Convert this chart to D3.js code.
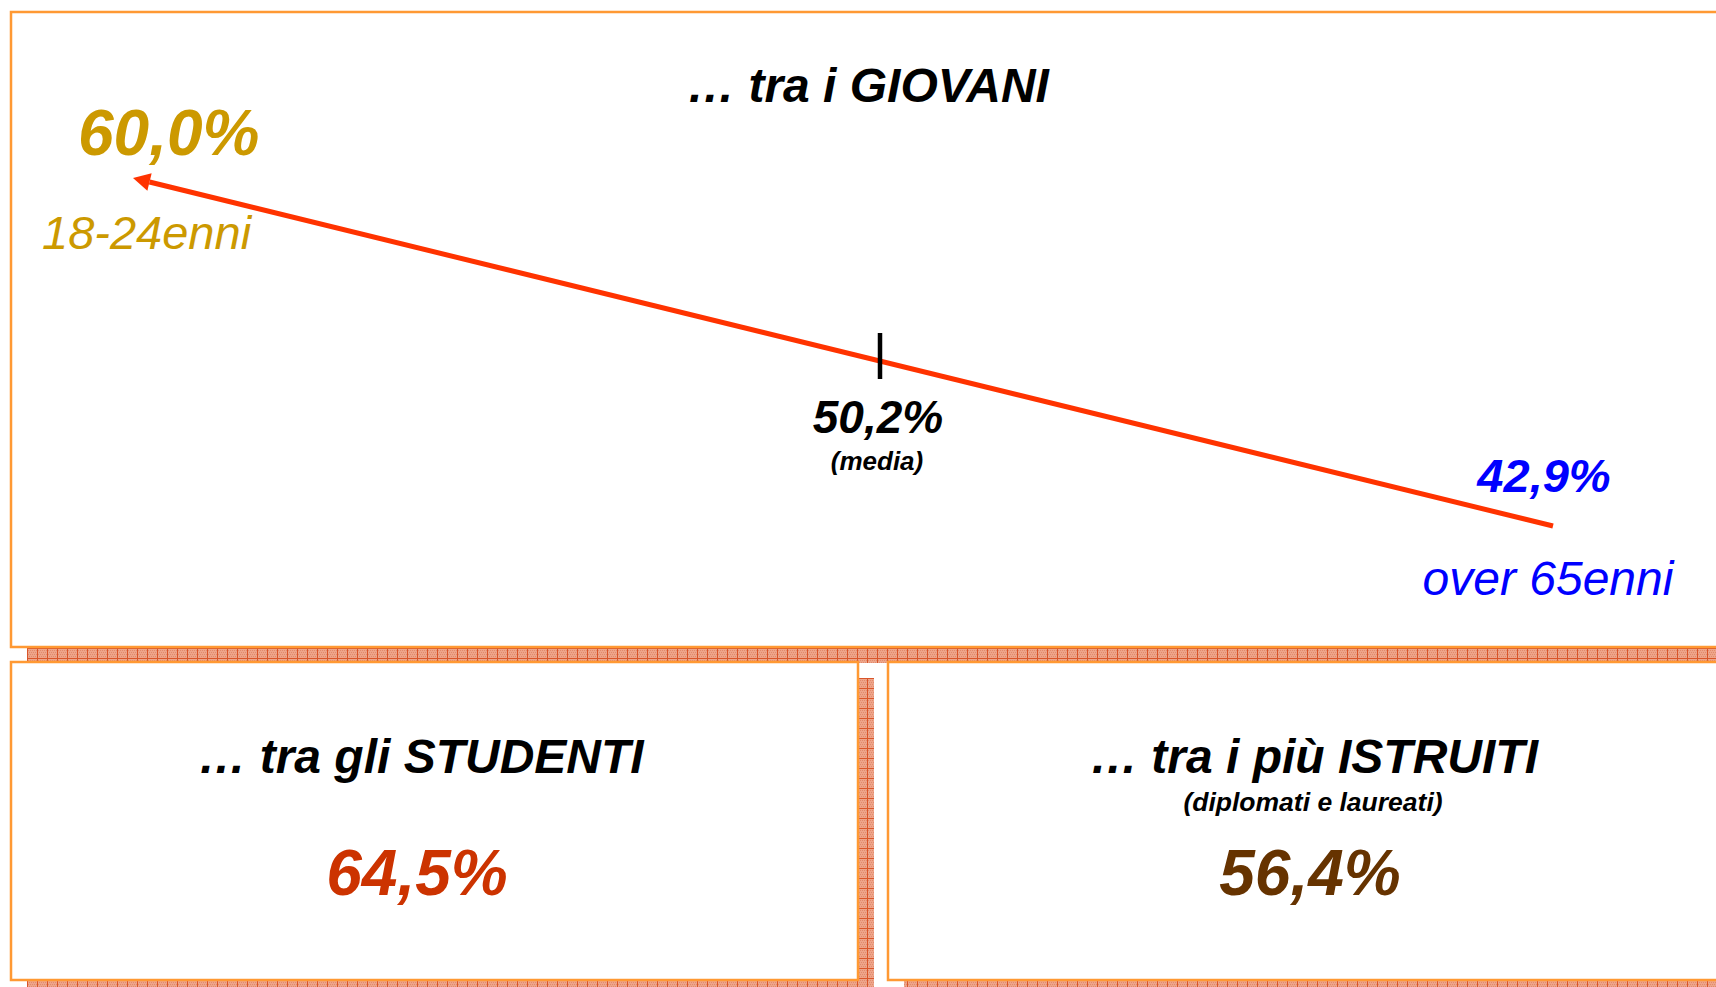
<!DOCTYPE html>
<html>
<head>
<meta charset="utf-8">
<script src="https://cdn.jsdelivr.net/npm/d3@7"></script>
<style>
  html, body { margin: 0; padding: 0; background: #fff; overflow: hidden; }
  svg { display: block; font-family: "Liberation Sans", Arial, sans-serif; }
</style>
</head>
<body>
<svg id="chart" width="1716" height="987"></svg>
<script>
// ---- data ----
const ageLabels = ["18-24enni", "(media)", "over 65enni"];
const ageValues = [60.0, 50.2, 42.9];
const panelTitles = ["… tra i GIOVANI", "… tra gli STUDENTI", "… tra i più ISTRUITI"];
const panelSubtitles = ["", "", "(diplomati e laureati)"];
const panelValues = [null, 64.5, 56.4];

const fmt = v => d3.format(".1f")(v).replace(".", ",") + "%";

const svg = d3.select("#chart");

// ---- shadow pattern ----
const defs = svg.append("defs");
const pat = defs.append("pattern").attr("id", "shadowPat")
  .attr("patternUnits", "userSpaceOnUse").attr("width", 10).attr("height", 10)
  .attr("x", 27).attr("y", 648);
pat.append("rect").attr("width", 10).attr("height", 10).attr("fill", "#EDA58A");
for (let i = 0; i < 10; i += 2) for (let j = 0; j < 10; j += 2) {
  pat.append("rect").attr("x", i + ((j / 2) % 2)).attr("y", j).attr("width", 1).attr("height", 1).attr("fill", "#E38A6C");
}
pat.append("rect").attr("x", 0).attr("y", 0).attr("width", 10).attr("height", 1).attr("fill", "#D9552A");
pat.append("rect").attr("x", 0).attr("y", 0).attr("width", 1).attr("height", 10).attr("fill", "#D9552A");

// ---- panels ----
const panels = [
  { x: 11, y: 12, w: 1800, h: 635 },
  { x: 11, y: 662, w: 847, h: 318 },
  { x: 888, y: 662, w: 900, h: 318 }
];
const off = 16;
svg.append("g").selectAll("rect").data(panels).join("rect")
  .attr("x", d => d.x + off).attr("y", d => d.y + off)
  .attr("width", d => d.w).attr("height", d => d.h)
  .attr("fill", "url(#shadowPat)");
svg.append("g").selectAll("rect").data(panels).join("rect")
  .attr("x", d => d.x).attr("y", d => d.y)
  .attr("width", d => d.w).attr("height", d => d.h)
  .attr("fill", "#fff").attr("stroke", "#FF9933").attr("stroke-width", 2.5);

// ---- top panel: age gradient arrow ----
const x = d3.scaleLinear().domain(ageValues).range([133, 880, 1553]);
const y = d3.scaleLinear().domain(ageValues).range([178, 361, 526]);

svg.append("text").attr("x", 868).attr("y", 102).attr("text-anchor", "middle")
  .attr("font-size", 48).attr("font-weight", "bold").attr("font-style", "italic")
  .attr("fill", "#000").text(panelTitles[0]);

const x0 = x(ageValues[2]), y0 = y(ageValues[2]);
const x1 = x(ageValues[0]), y1 = y(ageValues[0]);
const ang = Math.atan2(y1 - y0, x1 - x0);
const headLen = 17, headW = 9;
const bx = x1 - headLen * Math.cos(ang), by = y1 - headLen * Math.sin(ang);
svg.append("line").attr("x1", x0).attr("y1", y0).attr("x2", bx).attr("y2", by)
  .attr("stroke", "#FF3300").attr("stroke-width", 5);
const px = -Math.sin(ang), py = Math.cos(ang);
svg.append("path")
  .attr("d", `M${x1},${y1} L${bx + px * headW},${by + py * headW} L${bx - px * headW},${by - py * headW} Z`)
  .attr("fill", "#FF3300");

// median tick
svg.append("line").attr("x1", x(ageValues[1])).attr("x2", x(ageValues[1]))
  .attr("y1", y(ageValues[1]) - 28).attr("y2", y(ageValues[1]) + 18)
  .attr("stroke", "#000").attr("stroke-width", 4.5);

// labels
const T = svg.append("g");
T.append("text").attr("x", x(ageValues[0]) - 55).attr("y", 155)
  .attr("font-size", 64).attr("font-weight", "bold").attr("font-style", "italic")
  .attr("fill", "#CC9900").text(fmt(ageValues[0]));
T.append("text").attr("x", x(ageValues[0]) - 91).attr("y", 249)
  .attr("font-size", 47).attr("font-style", "italic")
  .attr("fill", "#CC9900").text(ageLabels[0]);

T.append("text").attr("x", x(ageValues[1]) - 2).attr("y", 433).attr("text-anchor", "middle")
  .attr("font-size", 46).attr("font-weight", "bold").attr("font-style", "italic")
  .attr("fill", "#000").text(fmt(ageValues[1]));
T.append("text").attr("x", x(ageValues[1]) - 3).attr("y", 470).attr("text-anchor", "middle")
  .attr("font-size", 26).attr("font-weight", "bold").attr("font-style", "italic")
  .attr("fill", "#000").text(ageLabels[1]);

T.append("text").attr("x", x(ageValues[2]) - 9).attr("y", 492).attr("text-anchor", "middle")
  .attr("font-size", 47).attr("font-weight", "bold").attr("font-style", "italic")
  .attr("fill", "#0000FF").text(fmt(ageValues[2]));
T.append("text").attr("x", x(ageValues[2]) - 5).attr("y", 595).attr("text-anchor", "middle")
  .attr("font-size", 48).attr("font-style", "italic")
  .attr("fill", "#0000FF").text(ageLabels[2]);

// ---- bottom panels ----
const bottom = [
  { cx: 421, vcx: 417, color: "#CC3300", i: 1 },
  { cx: 1314, vcx: 1310, color: "#663300", i: 2 }
];
bottom.forEach(b => {
  svg.append("text").attr("x", b.cx).attr("y", 773).attr("text-anchor", "middle")
    .attr("font-size", 48).attr("font-weight", "bold").attr("font-style", "italic")
    .attr("fill", "#000").text(panelTitles[b.i]);
  if (panelSubtitles[b.i]) {
    svg.append("text").attr("x", b.cx - 1).attr("y", 811).attr("text-anchor", "middle")
      .attr("font-size", 26.5).attr("font-weight", "bold").attr("font-style", "italic")
      .attr("fill", "#000").text(panelSubtitles[b.i]);
  }
  svg.append("text").attr("x", b.vcx).attr("y", 895).attr("text-anchor", "middle")
    .attr("font-size", 64).attr("font-weight", "bold").attr("font-style", "italic")
    .attr("fill", b.color).text(fmt(panelValues[b.i]));
});
</script>
</body>
</html>
